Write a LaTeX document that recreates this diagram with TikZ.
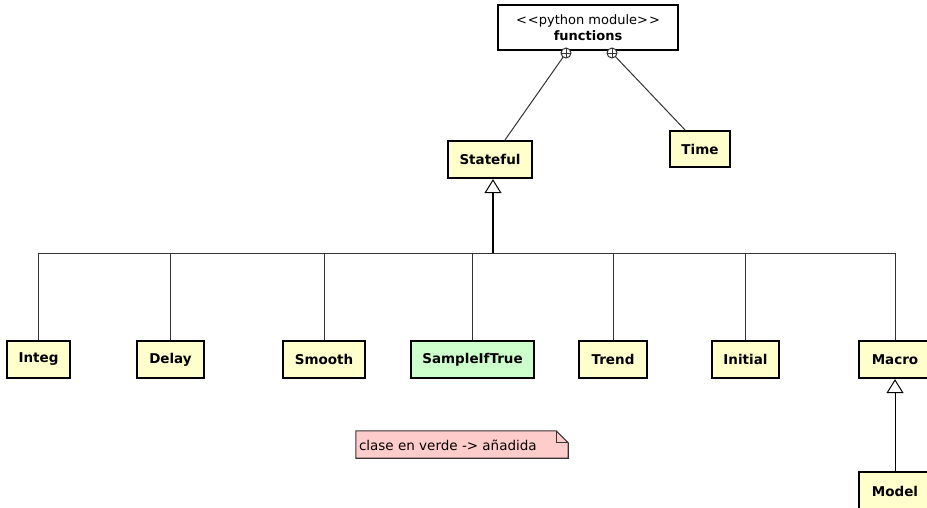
\documentclass[tikz,border=0pt]{standalone}
\usepackage{fontspec}
\setmainfont{DejaVu Sans}
\usetikzlibrary{arrows.meta}
\definecolor{classfill}{HTML}{FFFFCC}
\definecolor{newfill}{HTML}{CCFFCC}
\definecolor{notefill}{HTML}{FFCCCC}
\definecolor{wire}{HTML}{333333}
\begin{document}
\begin{tikzpicture}[x=1pt,y=-1pt,
  cls/.style={draw=black, line width=2.2pt, fill=classfill, inner sep=0pt,
    font=\fontsize{13.5}{15}\selectfont\bfseries},
  module/.style={draw=black, line width=2pt, fill=white, inner sep=0pt, align=center,
    font=\fontsize{13}{16}\selectfont},
  wireline/.style={draw=wire, line width=1pt},
  genline/.style={draw=black, line width=1pt, -{Triangle[open, length=14pt, width=17pt, line width=1pt]}},
  nest/.style={draw=wire, line width=1pt, fill=white}
]
\clip (0,0) rectangle (927,507);
\useasboundingbox (0,0) rectangle (927,507);

% module
\node[module, minimum width=180pt, minimum height=45pt] (functions) at (588,27.5)
  {<\kern1pt<python module>\kern1pt>\\\textbf{functions}};

% classes
\node[cls, minimum width=84pt, minimum height=37pt] (stateful) at (490,159.5) {Stateful};
\node[cls, minimum width=60pt, minimum height=36pt] (time) at (700,149) {Time};

\node[cls, minimum width=63pt, minimum height=37pt] (integ) at (38.5,359.5) {Integ};
\node[cls, minimum width=67pt, minimum height=37pt] (delay) at (170.5,359.5) {Delay};
\node[cls, minimum width=82pt, minimum height=37pt] (smooth) at (324,359.5) {Smooth};
\node[cls, fill=newfill, minimum width=123pt, minimum height=37pt] (sample) at (472.5,359.5) {SampleIfTrue};
\node[cls, minimum width=68pt, minimum height=37pt] (trend) at (613,359.5) {Trend};
\node[cls, minimum width=67pt, minimum height=37pt] (initial) at (745.5,359.5) {Initial};
\node[cls, minimum width=72pt, minimum height=37pt] (macro) at (895,359.5) {Macro};
\node[cls, minimum width=72pt, minimum height=38pt] (model) at (895,491) {Model};

% nesting connectors with circle-plus ends
\coordinate (n1) at (566,53);
\coordinate (n2) at (612,53);
\draw[wireline] (n1) -- (stateful.north -| 505,0);
\draw[wireline] (n2) -- (time.north -| 685,0);
\foreach \c in {n1,n2}{
  \draw[nest] (\c) circle (5pt);
  \draw[wire, line width=0.9pt] ([xshift=-5pt]\c) -- ([xshift=5pt]\c)
    ([yshift=-5pt]\c) -- ([yshift=5pt]\c);
}

% generalization tree
\coordinate (bus) at (493,253);
\foreach \n in {integ,delay,smooth,sample,trend,initial,macro}{
  \draw[wireline] (\n.north) |- (bus);
}
\draw[line width=2pt] (bus) -- (493,192);
\draw[genline, line width=2pt] (493,200) -- (stateful.south -| 493,0);

\draw[genline] (model.north) -- (macro.south);

% note with folded corner
\node[inner sep=0pt, minimum width=212pt, minimum height=27pt] (note) at (462,444.5) {};
\fill[notefill] (note.north west) -- ([xshift=-12pt]note.north east)
  -- ([yshift=-12pt]note.north east) -- (note.south east) -- (note.south west) -- cycle;
\draw[wire, line width=1.1pt] (note.north west) -- ([xshift=-12pt]note.north east)
  -- ([yshift=-12pt]note.north east) -- (note.south east) -- (note.south west) -- cycle;
\draw[wire, line width=1pt] ([xshift=-12pt]note.north east) |- ([yshift=-12pt]note.north east);
\node[anchor=west, inner sep=0pt, font=\fontsize{13.5}{15}\selectfont] (notetext)
  at ([xshift=3pt,yshift=-1pt]note.west) {clase en verde -> añadida};
\end{tikzpicture}
\end{document}
